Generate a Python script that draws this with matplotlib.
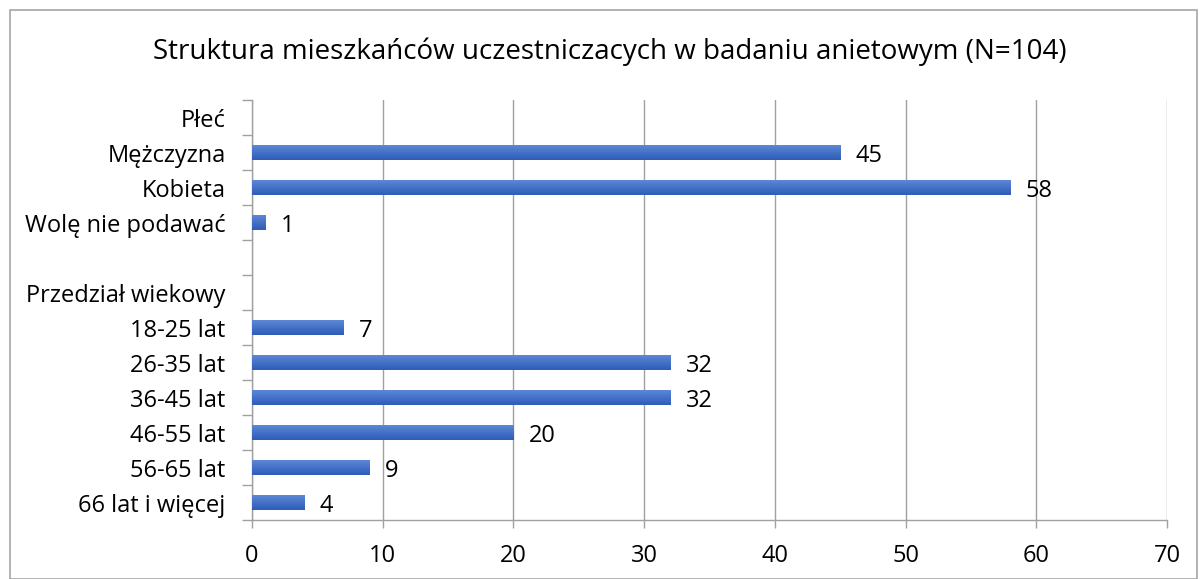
import matplotlib
matplotlib.use("Agg")
import matplotlib.pyplot as plt
import numpy as np
from matplotlib.patches import Rectangle
from matplotlib.colors import LinearSegmentedColormap

plt.rcParams['font.family'] = ['Open Sans', 'DejaVu Sans']

categories = ["Płeć", "Mężczyzna", "Kobieta", "Wolę nie podawać", "",
              "Przedział wiekowy", "18-25 lat", "26-35 lat", "36-45 lat",
              "46-55 lat", "56-65 lat", "66 lat i więcej"]
values = [None, 45, 58, 1, None, None, 7, 32, 32, 20, 9, 4]
xticks = [0, 10, 20, 30, 40, 50, 60, 70]
title = "Struktura mieszkańców uczestniczacych w badaniu anietowym (N=104)"

fig = plt.figure(figsize=(12, 5.79), dpi=100)
fig.patches.append(Rectangle((10/1200, 0), (1197-10)/1200, 1-10/579,
                             transform=fig.transFigure, fill=False,
                             edgecolor="#a6a6a6", linewidth=1.2))
ax = fig.add_axes([252/1200, 1-520/579, (1167-252)/1200, (520-100)/579])

pos = np.arange(len(categories))
vals = [v if v is not None else 0 for v in values]
bars = ax.barh(pos, vals, height=0.44, color="#4472C4", zorder=3)

grad = np.linspace(0, 1, 64).reshape(-1, 1)
cmap = LinearSegmentedColormap.from_list("g", ["#5F8AD8", "#2E5CB8"])
for b, v in zip(bars, values):
    if v is None:
        continue
    x0, y0 = b.get_x(), b.get_y()
    w, h = b.get_width(), b.get_height()
    im = ax.imshow(grad, extent=(x0, x0 + w, y0 + h, y0), cmap=cmap,
                   aspect="auto", zorder=4, origin="upper")
    im.set_clip_path(b)

for p, v in zip(pos, values):
    if v is None:
        continue
    ax.text(v + 1.2, p + 0.1, str(v), va="center", ha="left",
            fontsize=17, color="#000000", zorder=5)

ax.set_xlim(0, 70)
ax.set_ylim(len(categories) - 0.5, -0.5)
ax.set_xticks(xticks)
ax.set_xticklabels([str(t) for t in xticks], fontsize=17)
ax.set_yticks(pos)
ax.set_yticklabels(categories, fontsize=17)
ax.set_yticks(np.arange(-0.5, len(categories)), minor=True)
ax.tick_params(axis="y", which="major", length=0, pad=19)
ax.tick_params(axis="y", which="minor", length=7, color="#a0a0a0", width=1)
ax.tick_params(axis="x", which="major", length=6, color="#a0a0a0", width=1,
               pad=11, direction="out")
ax.grid(axis="x", color="#a0a0a0", linewidth=1, zorder=0)
ax.set_axisbelow(True)
for s in ["top", "right"]:
    ax.spines[s].set_visible(False)
for s in ["left", "bottom"]:
    ax.spines[s].set_color("#a0a0a0")
    ax.spines[s].set_linewidth(1)

fig.text(610/1200, 1-52/579, title, ha="center", va="center", fontsize=20)

fig.savefig("out.png", dpi=100)
